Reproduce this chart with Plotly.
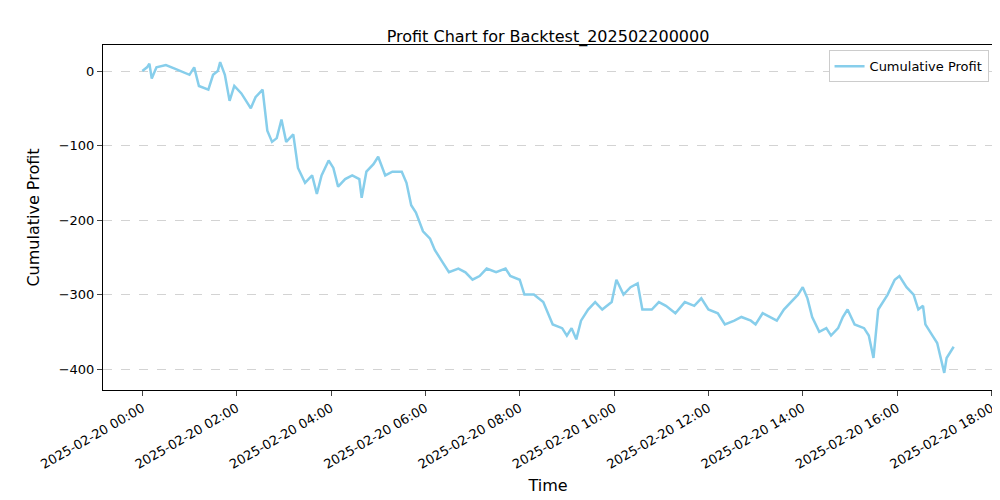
import plotly.graph_objects as go
import pandas as pd

hours = [0.0,0.1,0.15,0.2,0.3,0.5,0.7,0.9,1.0,1.1,1.2,1.4,1.5,1.6,1.65,1.75,1.85,1.95,2.1,2.2,2.3,2.4,2.55,2.65,2.75,2.85,2.95,3.05,3.2,3.3,3.45,3.6,3.7,3.8,3.95,4.05,4.15,4.3,4.45,4.6,4.65,4.75,4.9,5.0,5.15,5.3,5.5,5.6,5.7,5.8,5.95,6.1,6.2,6.35,6.5,6.7,6.85,7.0,7.15,7.3,7.5,7.7,7.8,8.0,8.1,8.3,8.5,8.7,8.9,9.0,9.1,9.2,9.3,9.45,9.6,9.75,9.95,10.05,10.2,10.35,10.5,10.6,10.8,10.95,11.1,11.3,11.5,11.7,11.85,12.0,12.2,12.35,12.55,12.7,12.9,13.0,13.15,13.3,13.45,13.6,13.75,13.9,14.0,14.1,14.2,14.35,14.5,14.6,14.75,14.85,14.95,15.1,15.3,15.4,15.5,15.6,15.8,15.95,16.05,16.2,16.35,16.45,16.55,16.6,16.75,16.85,17.0,17.05,17.15,17.2]
profit = [0,5,10,-10,5,8,3,-2,-5,5,-20,-25,-5,0,12,-5,-40,-20,-30,-40,-50,-35,-25,-80,-95,-90,-65,-95,-85,-130,-150,-140,-165,-140,-120,-130,-155,-145,-140,-145,-170,-135,-125,-115,-140,-135,-135,-150,-180,-190,-215,-225,-240,-255,-270,-265,-270,-280,-275,-265,-270,-265,-275,-280,-300,-300,-310,-340,-345,-355,-345,-360,-335,-320,-310,-320,-310,-280,-300,-290,-285,-320,-320,-310,-315,-325,-310,-315,-305,-320,-325,-340,-335,-330,-335,-340,-325,-330,-335,-320,-310,-300,-290,-305,-330,-350,-345,-355,-345,-330,-320,-340,-345,-355,-385,-320,-300,-280,-275,-290,-300,-320,-315,-340,-355,-365,-405,-385,-375,-370]

start = pd.Timestamp("2025-02-20 00:00")
times = [start + pd.Timedelta(hours=h) for h in hours]
tickvals = [start + pd.Timedelta(hours=h) for h in range(0, 19, 2)]
ticktext = [t.strftime("%Y-%m-%d %H:%M") for t in tickvals]

fig = go.Figure(go.Scatter(x=times, y=profit, mode="lines", name="Cumulative Profit",
                           line=dict(color="#87CEEB", width=2.5)))
fig.update_layout(
    width=1000, height=500, plot_bgcolor="white", paper_bgcolor="white",
    margin=dict(l=95, r=15, t=37, b=118),
    font=dict(family="DejaVu Sans", size=13, color="black"),
    title=dict(text="Profit Chart for Backtest_202502200000", x=0.54, xanchor="center", y=0.955, font=dict(size=16)),
    showlegend=True,
    legend=dict(x=0.995, y=0.985, xanchor="right", yanchor="top", bordercolor="#cccccc", borderwidth=1, bgcolor="white"),
)
fig.update_xaxes(title_text="Time", title_standoff=8, automargin=False, tickvals=tickvals, ticktext=ticktext, tickangle=-30,
                 range=[start - pd.Timedelta(minutes=50), start + pd.Timedelta(hours=18, minutes=2)],
                 showline=True, mirror=True, linecolor="black", ticks="outside", showgrid=False)
fig.update_yaxes(title_text="Cumulative Profit", automargin=False, range=[-428, 35], tickvals=[0,-100,-200,-300,-400],
                 showline=True, mirror=True, linecolor="black", ticks="outside",
                 showgrid=True, gridcolor="#d3d3d3", griddash="dash", zeroline=False)
fig.write_html("out.html")
